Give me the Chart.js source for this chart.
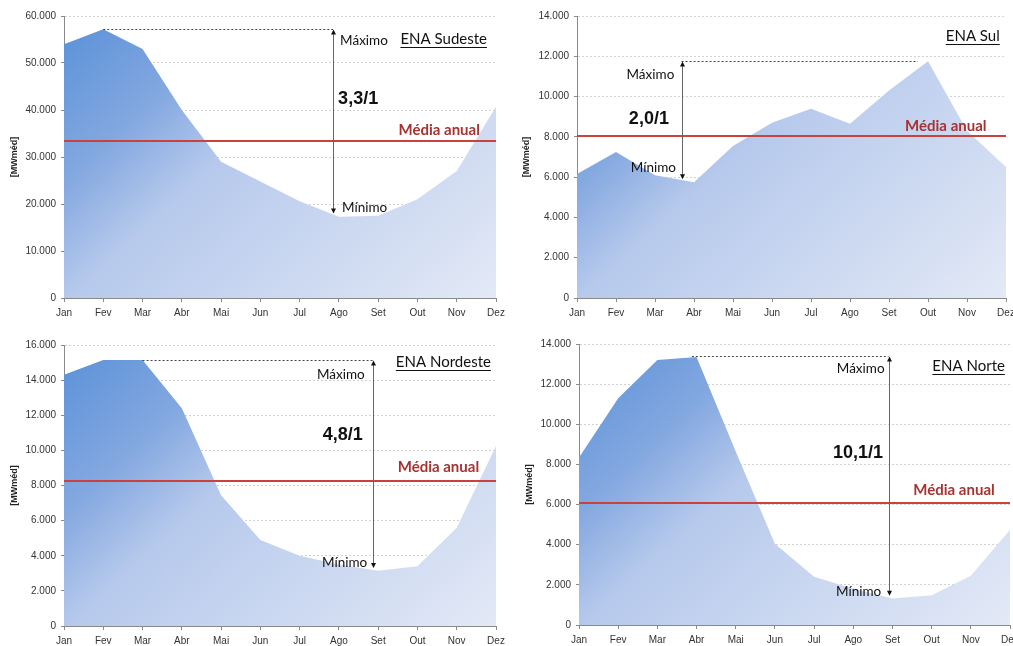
<!DOCTYPE html>
<html>
<head>
<meta charset="utf-8">
<script src="https://cdn.jsdelivr.net/npm/chart.js@4.4.1/dist/chart.umd.min.js"></script>
<style>
    html, body { margin: 0; padding: 0; background: #fff; }
    #wrap { position: relative; width: 1013px; height: 646px; }
    .panel { position: absolute; }
</style>
</head>
<body>
<div id="wrap">
    <div class="panel" style="left:0;top:0;width:506px;height:320px"><canvas id="ena-sudeste"></canvas></div>
    <div class="panel" style="left:506px;top:0;width:507px;height:320px"><canvas id="ena-sul"></canvas></div>
    <div class="panel" style="left:0;top:320px;width:506px;height:326px"><canvas id="ena-nordeste"></canvas></div>
    <div class="panel" style="left:506px;top:320px;width:507px;height:326px"><canvas id="ena-norte"></canvas></div>
</div>
<script>
// Monthly natural energy inflow (ENA) per subsystem, MWmed
const months = ['Jan', 'Fev', 'Mar', 'Abr', 'Mai', 'Jun', 'Jul', 'Ago', 'Set', 'Out', 'Nov', 'Dez'];

const sudesteValues = [54000, 57200, 53000, 40000, 29000, 24800, 20600, 17300, 17500, 21000, 27000, 40700];
const sulValues = [6150, 7250, 6100, 5750, 7550, 8700, 9400, 8650, 10300, 11750, 8300, 6500];
const nordesteValues = [14300, 15150, 15150, 12400, 7450, 4900, 4000, 3500, 3150, 3400, 5600, 10250];
const norteValues = [8350, 11300, 13200, 13350, 8650, 4050, 2400, 1800, 1320, 1480, 2450, 4750];

const mediaAnual = { sudeste: 33500, sul: 8050, nordeste: 8250, norte: 6080 };
const ratioLabels = { sudeste: '3,3/1', sul: '2,0/1', nordeste: '4,8/1', norte: '10,1/1' };

const axisColor = '#8a8a8a';
const tickFont = { family: 'Liberation Sans, Arial, sans-serif', size: 10 };
const noteFont = 'Lato, "Open Sans", sans-serif';

function fmtThousands(v) {
    return String(v).replace(/\B(?=(\d{3})+(?!\d))/g, '.');
}

function areaGradient(context) {
    const area = context.chart.chartArea;
    if (!area) return 'rgba(91, 143, 214, 0.8)';
    const w = area.right - area.left;
    const h = area.bottom - area.top;
    const g = context.chart.ctx.createLinearGradient(area.left, area.top, area.left + 0.78 * w, area.top + 1.3 * h);
    g.addColorStop(0, '#5890d8');
    g.addColorStop(0.25, '#84a8e0');
    g.addColorStop(0.42, '#b6c9ec');
    g.addColorStop(1, '#e3e9f6');
    return g;
}

function arrowHead(ctx, x, y, dir) {
    ctx.beginPath();
    ctx.moveTo(x, y);
    ctx.lineTo(x - 2.5, y - dir * 5);
    ctx.lineTo(x + 2.5, y - dir * 5);
    ctx.closePath();
    ctx.fill();
}

// annotations: average line, max/min arrow, texts
const enaNotes = {
    id: 'enaNotes',
    afterDatasetsDraw(chart, args, opts) {
        const { ctx, chartArea, scales: { x, y } } = chart;
        ctx.save();

        // Média anual
        const my = Math.round(y.getPixelForValue(opts.media));
        ctx.strokeStyle = '#c9423e';
        ctx.lineWidth = 2;
        ctx.beginPath();
        ctx.moveTo(chartArea.left, my);
        ctx.lineTo(chartArea.right, my);
        ctx.stroke();

        // dotted line at the maximum
        const ty = Math.round(y.getPixelForValue(opts.arrowTop)) + 0.5;
        ctx.strokeStyle = '#444';
        ctx.lineWidth = 1;
        ctx.setLineDash([2, 2]);
        ctx.beginPath();
        ctx.moveTo(x.getPixelForValue(opts.dotFrom), ty);
        ctx.lineTo(x.getPixelForValue(opts.dotTo), ty);
        ctx.stroke();
        ctx.setLineDash([]);

        // double arrow
        const ax = Math.round(x.getPixelForValue(opts.arrowX)) + 0.5;
        const by = y.getPixelForValue(opts.arrowBottom);
        ctx.strokeStyle = '#666';
        ctx.beginPath();
        ctx.moveTo(ax, ty + 3);
        ctx.lineTo(ax, by - 3);
        ctx.stroke();
        ctx.fillStyle = '#111';
        arrowHead(ctx, ax, ty, -1);
        arrowHead(ctx, ax, by, 1);

        // texts
        ctx.textBaseline = 'middle';
        opts.texts.forEach(t => {
            ctx.font = t.font;
            ctx.fillStyle = t.color || '#111';
            ctx.textAlign = t.align || 'left';
            const tx = x.getPixelForValue(t.x);
            const tyy = y.getPixelForValue(t.y);
            ctx.fillText(t.text, tx, tyy);
            if (t.underline) {
                const w = ctx.measureText(t.text).width;
                const x0 = t.align === 'right' ? tx - w : tx;
                ctx.strokeStyle = '#111';
                ctx.lineWidth = 1;
                ctx.beginPath();
                ctx.moveTo(x0, Math.round(tyy + 8) + 0.5);
                ctx.lineTo(x0 + w, Math.round(tyy + 8) + 0.5);
                ctx.stroke();
            }
        });
        ctx.restore();
    }
};

function createEnaChart(id, values, p) {
    const ctx = document.getElementById(id).getContext('2d');
    return new Chart(ctx, {
        type: 'line',
        data: {
            labels: months,
            datasets: [{
                label: p.title,
                data: values,
                backgroundColor: areaGradient,
                borderWidth: 0,
                pointRadius: 0,
                fill: 'origin',
                tension: 0
            }]
        },
        options: {
            responsive: true,
            maintainAspectRatio: false,
            animation: false,
            layout: {
                padding: { top: p.top, right: p.right, left: 0, bottom: 0 }
            },
            plugins: {
                legend: { display: false },
                tooltip: { enabled: false },
                enaNotes: p.notes
            },
            scales: {
                x: {
                    grid: {
                        drawOnChartArea: false,
                        drawTicks: true,
                        tickLength: 4,
                        tickColor: axisColor
                    },
                    border: { color: axisColor, width: 1 },
                    ticks: {
                        maxRotation: 0,
                        autoSkip: false,
                        padding: 5,
                        color: '#333',
                        font: tickFont
                    },
                    afterFit: s => {
                        s.height = p.xHeight;
                        s.paddingLeft = 0;
                        s.paddingRight = 0;
                    }
                },
                y: {
                    min: 0,
                    max: p.yMax,
                    grid: {
                        color: '#d2d2d2',
                        tickLength: 3,
                        tickColor: axisColor,
                        tickBorderDash: []
                    },
                    border: { color: axisColor, width: 1, dash: [2, 2] },
                    ticks: {
                        stepSize: p.yStep,
                        padding: 5,
                        color: '#333',
                        font: tickFont,
                        callback: v => fmtThousands(v)
                    },
                    title: {
                        display: true,
                        text: '[MWméd]',
                        color: '#222',
                        font: { family: 'Liberation Sans, Arial, sans-serif', size: 9, weight: 'bold' },
                        padding: { top: p.titlePad, bottom: 0 }
                    },
                    afterFit: s => {
                        s.width = p.left;
                        s.paddingTop = 0;
                        s.paddingBottom = 0;
                    }
                }
            }
        },
        plugins: [enaNotes]
    });
}

function noteTexts(title, ratio, media, pos) {
    return [
        { text: 'Máximo', x: pos.max[0], y: pos.max[1], font: '13.5px ' + noteFont },
        { text: ratio, x: pos.ratio[0], y: pos.ratio[1], font: 'bold 18px Liberation Sans, Arial, sans-serif' },
        { text: 'Mínimo', x: pos.min[0], y: pos.min[1], font: '13.5px ' + noteFont },
        { text: title, x: pos.title[0], y: pos.title[1], font: '15px ' + noteFont, align: 'right', underline: true },
        { text: 'Média anual', x: pos.media[0], y: media + pos.media[1], font: 'bold 15px ' + noteFont, color: '#a83232', align: 'right' }
    ];
}

// ENA Sudeste
let sudesteChart = createEnaChart('ena-sudeste', sudesteValues, {
    title: 'ENA Sudeste', yMax: 60000, yStep: 10000,
    top: 16, right: 10, left: 64, xHeight: 22, titlePad: 9.5,
    notes: {
        media: mediaAnual.sudeste, arrowX: 6.85, arrowTop: 57200, arrowBottom: 18000, dotFrom: 1, dotTo: 6.85,
        texts: noteTexts('ENA Sudeste', ratioLabels.sudeste, mediaAnual.sudeste, {
            max: [7.03, 54700], ratio: [6.98, 42350], min: [7.08, 19150], title: [10.77, 55100], media: [10.59, 2250]
        })
    }
});

// ENA Sul
let sulChart = createEnaChart('ena-sul', sulValues, {
    title: 'ENA Sul', yMax: 14000, yStep: 2000,
    top: 16, right: 7, left: 71, xHeight: 22, titlePad: 15.5,
    notes: {
        media: mediaAnual.sul, arrowX: 2.68, arrowTop: 11750, arrowBottom: 5900, dotFrom: 2.68, dotTo: 8.74,
        texts: noteTexts('ENA Sul', ratioLabels.sul, mediaAnual.sul, {
            max: [1.27, 11070], ratio: [1.33, 8890], min: [1.38, 6455], title: [10.84, 13010], media: [10.5, 490]
        })
    }
});

// ENA Nordeste
let nordesteChart = createEnaChart('ena-nordeste', nordesteValues, {
    title: 'ENA Nordeste', yMax: 16000, yStep: 2000,
    top: 25, right: 10, left: 64, xHeight: 20, titlePad: 9.5,
    notes: {
        media: mediaAnual.nordeste, arrowX: 7.86, arrowTop: 15150, arrowBottom: 3300, dotFrom: 2, dotTo: 7.86,
        texts: noteTexts('ENA Nordeste', ratioLabels.nordeste, mediaAnual.nordeste, {
            max: [6.44, 14330], ratio: [6.59, 10860], min: [6.57, 3580], title: [10.87, 15020], media: [10.57, 810]
        })
    }
});

// ENA Norte
let norteChart = createEnaChart('ena-norte', norteValues, {
    title: 'ENA Norte', yMax: 14000, yStep: 2000,
    top: 24, right: 3, left: 73, xHeight: 21, titlePad: 18.5,
    notes: {
        media: mediaAnual.norte, arrowX: 7.9, arrowTop: 13400, arrowBottom: 1460, dotFrom: 2.88, dotTo: 7.9,
        texts: noteTexts('ENA Norte', ratioLabels.norte, mediaAnual.norte, {
            max: [6.58, 12790], ratio: [6.48, 8580], min: [6.56, 1670], title: [10.87, 12890], media: [10.61, 640]
        })
    }
});
</script>
</body>
</html>
